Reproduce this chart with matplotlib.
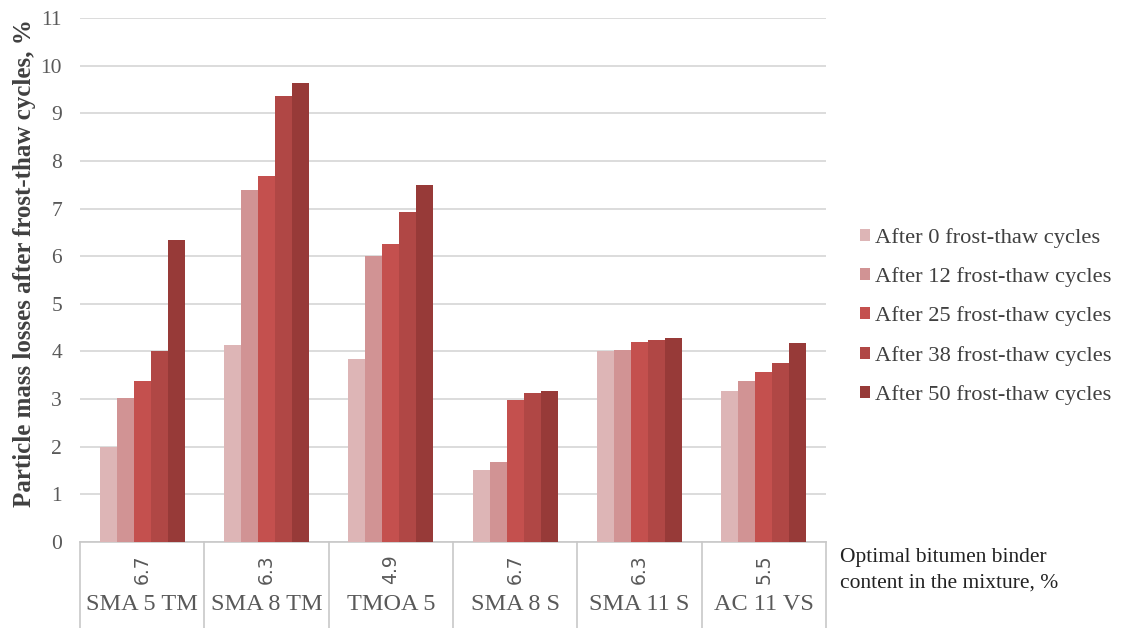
import matplotlib
matplotlib.use("Agg")
import matplotlib.pyplot as plt
import matplotlib.transforms as mtransforms
from matplotlib.lines import Line2D
import numpy as np

# Mixtures and their optimal binder contents
mixtures = ["SMA 5 TM", "SMA 8 TM", "TMOA 5", "SMA 8 S", "SMA 11 S", "AC 11 VS"]
binder_content = ["6.7", "6.3", "4.9", "6.7", "6.3", "5.5"]

# Particle mass losses (%) after each number of frost-thaw cycles
series_labels = [
    "After 0 frost-thaw cycles",
    "After 12 frost-thaw cycles",
    "After 25 frost-thaw cycles",
    "After 38 frost-thaw cycles",
    "After 50 frost-thaw cycles",
]
loss_0 = [2.00, 4.13, 3.85, 1.52, 4.00, 3.18]
loss_12 = [3.03, 7.38, 6.00, 1.68, 4.04, 3.38]
loss_25 = [3.37, 7.69, 6.26, 2.99, 4.20, 3.57]
loss_38 = [4.01, 9.36, 6.93, 3.13, 4.25, 3.76]
loss_50 = [6.34, 9.63, 7.49, 3.18, 4.28, 4.18]
series = [loss_0, loss_12, loss_25, loss_38, loss_50]

colors = ["#ddb5b6", "#d19394", "#c4504e", "#b04745", "#973a38"]

serif = ["Liberation Serif", "DejaVu Serif"]
W, H = 1126, 628
fig = plt.figure(figsize=(W / 100, H / 100), dpi=100)
ax = fig.add_axes([80 / W, 1 - 542 / H, (826 - 80) / W, (542 - 18) / H])

x = np.arange(len(mixtures))
bar_w = 0.137
n = len(series)
for i, (vals, lab, col) in enumerate(zip(series, series_labels, colors)):
    ax.bar(x + (i - (n - 1) / 2) * bar_w, vals, width=bar_w, color=col,
           label=lab, zorder=3, linewidth=0)

ax.set_xlim(-0.5, len(mixtures) - 0.5)
ax.set_ylim(0, 11)
ax.set_yticks(range(0, 12))
ax.yaxis.grid(True, color="#d9d9d9", linewidth=1.3, zorder=0)
ax.set_axisbelow(True)
for s in ["left", "right", "top"]:
    ax.spines[s].set_visible(False)
ax.spines["bottom"].set_color("#c8c8c8")
ax.spines["bottom"].set_linewidth(1.2)
ax.tick_params(axis="y", length=0, pad=13, labelsize=15.5, labelcolor="#595959")
for t in ax.get_yticklabels():
    t.set_fontfamily(serif)
ax.set_xticks([])

fig.text(25 / W, 1 - 263 / H, "Particle mass losses after frost-thaw cycles, %",
         rotation=90, ha="center", va="center", fontsize=18, fontweight="bold",
         family=serif, color="#404040")

# Two-level category table below the axis
trans = mtransforms.blended_transform_factory(ax.transData, ax.transAxes)
depth = (628 - 542) / (542 - 18)
for xs in np.arange(-0.5, len(mixtures), 1.0):
    ax.add_line(Line2D([xs, xs], [0, -depth], transform=trans, color="#c8c8c8",
                       linewidth=1.2, clip_on=False))
for xi, (mix, bc) in enumerate(zip(mixtures, binder_content)):
    ax.text(xi, -(569 - 542) / 524, bc, transform=trans, rotation=90,
            ha="center", va="center", fontsize=13.5, family="DejaVu Sans",
            color="#595959")
    ax.text(xi, -(605 - 542) / 524, mix, transform=trans, ha="center",
            va="center", fontsize=17.5, family=serif, color="#595959")

fig.text(840 / W, 1 - 548 / H, "Optimal bitumen binder\ncontent in the mixture, %",
         ha="left", va="top", fontsize=15.5, family=serif, color="#222222",
         linespacing=1.45)

leg = fig.legend(loc="upper left", bbox_to_anchor=(851 / W, 1 - 219 / H),
                 frameon=False, prop={"family": serif, "size": 16.2},
                 handlelength=0.45, handleheight=0.45, handletextpad=0.2,
                 labelspacing=0.86, borderaxespad=0)
for t in leg.get_texts():
    t.set_color("#404040")

fig.savefig("out.png", dpi=100)
